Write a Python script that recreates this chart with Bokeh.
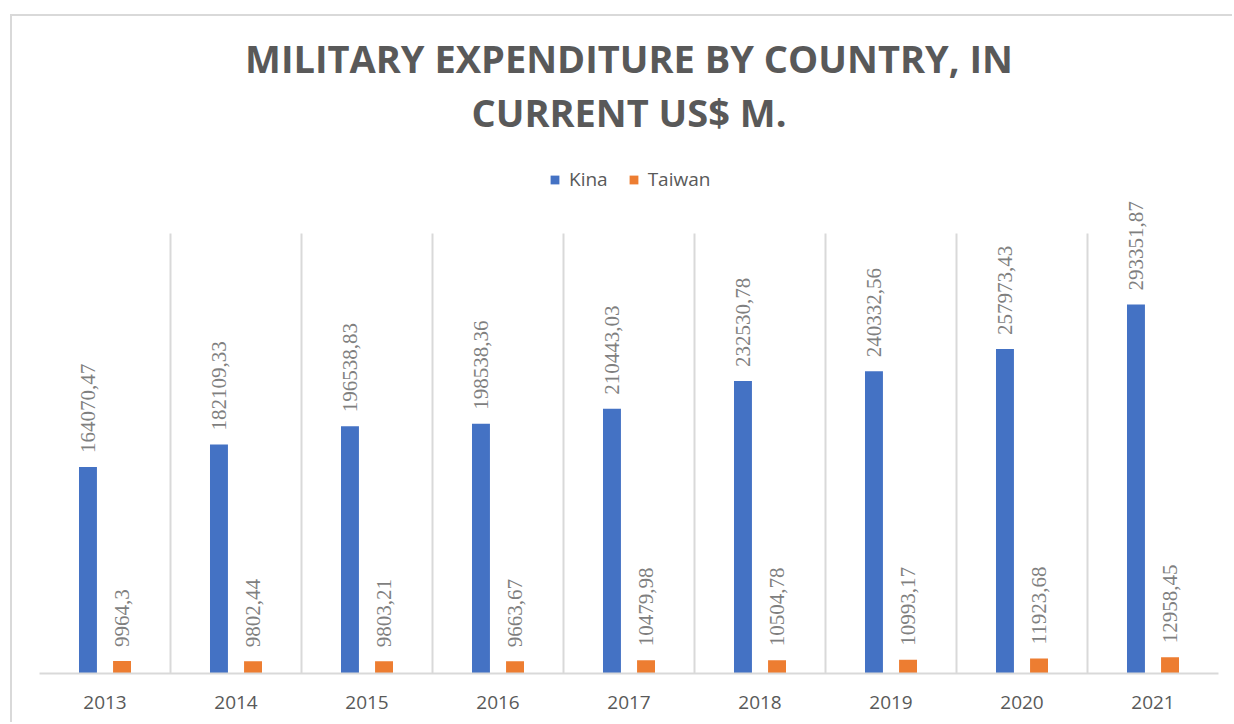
from bokeh.plotting import figure
from bokeh.models import (ColumnDataSource, Range1d, LabelSet, Legend, Grid,
                          LegendItem, FixedTicker, Title)
from bokeh.transform import dodge
from bokeh.embed import file_html
from bokeh.resources import INLINE
import math

# ---- data ----
years = ["2013", "2014", "2015", "2016", "2017", "2018", "2019", "2020", "2021"]
kina = [164070.47, 182109.33, 196538.83, 198538.36, 210443.03, 232530.78, 240332.56, 257973.43, 293351.87]
taiwan = [9964.3, 9802.44, 9803.21, 9663.67, 10479.98, 10504.78, 10993.17, 11923.68, 12958.45]
series_names = ["Kina", "Taiwan"]
title_lines = ["MILITARY EXPENDITURE BY COUNTRY, IN", "CURRENT US$ M."]
axis_max = 350000


def fmt(v):
    return f"{v:.2f}".rstrip("0").rstrip(".").replace(".", ",")


pos = [i + 0.5 for i in range(len(years))]  # category centres on a numeric scale

src = ColumnDataSource(dict(
    year=years, pos=pos, kina=kina, taiwan=taiwan,
    kina_lbl=[fmt(v) for v in kina], taiwan_lbl=[fmt(v) for v in taiwan],
))

BLUE = "#4472C4"
ORANGE = "#ED7D31"
GRAY = "#595959"
LGRAY = "#D9D9D9"

# the plot frame reaches above the last grid value so that labels and legend fit in it
p = figure(x_range=Range1d(0, len(years)), y_range=Range1d(0, axis_max * 1.165), title=None,
           width=1222, height=708, output_backend="svg", toolbar_location=None,
           min_border_left=27, min_border_right=16, min_border_bottom=51, min_border_top=144)
p.margin = (14, 0, 0, 10)
p.styles = {"border-left": "2px solid #D9D9D9", "border-top": "2px solid #D9D9D9"}

r1 = p.vbar(x=dodge("pos", -0.13), top="kina", width=0.137,
            source=src, fill_color=BLUE, line_color=None)
r2 = p.vbar(x=dodge("pos", 0.13), top="taiwan", width=0.137,
            source=src, fill_color=ORANGE, line_color=None)

for col, lbl, off in (("kina", "kina_lbl", -0.13), ("taiwan", "taiwan_lbl", 0.13)):
    ls = LabelSet(x=dodge("pos", off), y=col, text=lbl, source=src,
                  angle=math.pi / 2, y_offset=14, text_align="left", text_baseline="middle",
                  text_font="Open Sans", text_font_size="21px", text_color="#7F7F7F")
    p.add_layout(ls)

legend = Legend(items=[LegendItem(label=series_names[0], renderers=[r1]),
                       LegendItem(label=series_names[1], renderers=[r2])],
                orientation="horizontal", location=(510, 481),
                label_text_font="Open Sans", label_text_font_size="19px", label_text_color=GRAY,
                glyph_width=11, glyph_height=11, label_standoff=9, spacing=20,
                border_line_color=None, background_fill_alpha=0, margin=0, padding=0)
p.add_layout(legend)

# spacer between the title block and the plot, then the two title lines
p.add_layout(Title(text=" ", text_font_size="19px", standoff=0), "above")
for line in reversed(title_lines):
    p.add_layout(Title(text=line, align="center", text_font="Open Sans", text_font_style="bold",
                       text_font_size="38px", text_color=GRAY, standoff=0), "above")

# axes / grid
p.yaxis.visible = False
p.ygrid.visible = False
bounds_ticks = list(range(len(years) + 1))
if "cross_bounds" in Grid.properties():
    p.xgrid.ticker = FixedTicker(ticks=bounds_ticks)
    p.xgrid.cross_bounds = (0, axis_max)
    p.xgrid.grid_line_color = LGRAY
    p.xgrid.grid_line_width = 2
else:
    p.xgrid.visible = False
    p.segment(x0=bounds_ticks, x1=bounds_ticks, y0=[0] * len(bounds_ticks),
              y1=[axis_max] * len(bounds_ticks), line_color=LGRAY, line_width=2, level="underlay")
p.xaxis.ticker = FixedTicker(ticks=pos)
p.xaxis.major_label_overrides = {c: y for c, y in zip(pos, years)}
p.xaxis.axis_line_color = LGRAY
p.xaxis.axis_line_width = 2
p.xaxis.major_tick_line_color = None
p.xaxis.minor_tick_line_color = None
p.xaxis.major_label_text_font = "Open Sans"
p.xaxis.major_label_text_font_size = "19px"
p.xaxis.major_label_text_color = GRAY
p.xaxis.major_label_standoff = 16
p.outline_line_color = None
p.background_fill_color = "white"
p.border_fill_color = "white"

open("out.html", "w").write(file_html(p, INLINE))
